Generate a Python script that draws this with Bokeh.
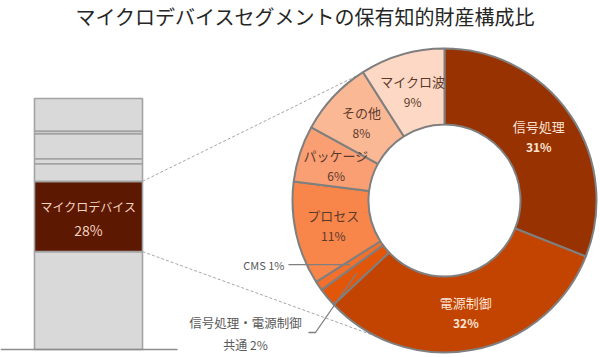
import math
from bokeh.plotting import figure
from bokeh.models import Range1d, ColumnDataSource
from bokeh.embed import file_html
from bokeh.resources import INLINE
from bokeh.core.properties import value

TITLE = "マイクロデバイスセグメントの保有知的財産構成比"

# Donut: shares (%) clockwise from 12 o'clock
donut_names = ["信号処理", "電源制御", "信号処理・電源制御共通", "CMS", "プロセス", "パッケージ", "その他", "マイクロ波"]
donut_shares = [31, 32, 2, 1, 11, 6, 8, 9]
donut_colors = ["#983200", "#C24400", "#E2560A", "#F36F2C", "#F8854A", "#FA9F74", "#FBB895", "#FDD8C4"]
donut_text_colors = ["#FBE3D4", "#FBE3D4", None, None, "#5B3A2C", "#5B3A2C", "#5B3A2C", "#5B3A2C"]

# Stacked bar: shares (%) from bottom to top
bar_shares = [39, 28, 7, 2, 10, 1, 13]
bar_labels = ["", "マイクロデバイス", "", "", "", "", ""]
bar_highlight = 1

W, H = 600, 357
FONT = value("Noto Sans CJK JP")

p = figure(width=W, height=H, output_backend="svg", toolbar_location=None,
           x_range=Range1d(0, W), y_range=Range1d(0, H),
           x_axis_location=None, y_axis_location=None, min_border=0,
           outline_line_color=None)
p.grid.visible = False
p.background_fill_color = "white"
p.border_fill_color = "white"

def sy(y):  # screen y -> data y
    return H - y

# ---- title ----
p.text(x=[305], y=[sy(16)], text=[TITLE], text_font=FONT, text_font_size=value("20px"),
       text_color="#262626", text_align="center", text_baseline="middle")

# ---- stacked bar ----
bx0, bx1 = 34, 142
base, top = sy(349), sy(98)
scale = (top - base) / sum(bar_shares)
cum = 0
tops, bots, fills = [], [], []
for i, s in enumerate(bar_shares):
    bots.append(base + cum * scale)
    cum += s
    tops.append(base + cum * scale)
    fills.append("#5C1800" if i == bar_highlight else "#D9D9D9")
p.quad(left=[bx0] * len(bar_shares), right=[bx1] * len(bar_shares), bottom=bots, top=tops,
       fill_color=fills, line_color="#A3A3A3", line_width=1.6)
# baseline
p.line(x=[0, 177], y=[sy(349), sy(349)], line_color="#8C8C8C", line_width=1.5)
hb, ht = bots[bar_highlight], tops[bar_highlight]
hm = (hb + ht) / 2
p.text(x=[(bx0 + bx1) / 2], y=[hm + 10], text=[bar_labels[bar_highlight]], text_font=FONT,
       text_font_size=value("12px"), text_color="#F4D3C2", text_align="center", text_baseline="middle")
p.text(x=[(bx0 + bx1) / 2], y=[hm - 14], text=[f"{bar_shares[bar_highlight]}%"], text_font=FONT,
       text_font_size=value("14px"), text_color="#F4D3C2", text_align="center", text_baseline="middle")

# ---- donut ----
cx, cy = 444, sy(200)
r_out, r_in = 152, 76
r_mid = (r_out + r_in) / 2
total = sum(donut_shares)
starts, ends, mids = [], [], []
c = 0
for s in donut_shares:
    a0 = c / total * 360
    c += s
    a1 = c / total * 360
    starts.append(math.radians(90 - a0))
    ends.append(math.radians(90 - a1))
    mids.append((a0 + a1) / 2)

def pt(ang_deg, r):
    return cx + r * math.sin(math.radians(ang_deg)), cy + r * math.cos(math.radians(ang_deg))

# dashed connectors (drawn first, under donut)
for yb, ang in [(ht, 326), (hb, 206.5)]:
    ex, ey = pt(ang, r_out)
    p.line(x=[bx1, ex], y=[yb, ey], line_color="#A6A6A6", line_width=1, line_dash="3 2")

src = ColumnDataSource(dict(start=starts, end=ends, color=donut_colors))
p.annular_wedge(x=cx, y=cy, inner_radius=r_in, outer_radius=r_out, start_angle="start",
                end_angle="end", direction="clock", fill_color="color", line_color="#7F7F7F",
                line_width=2, source=src)

# inside labels
for i, (name, s, m, tc) in enumerate(zip(donut_names, donut_shares, mids, donut_text_colors)):
    if tc is None:
        continue
    lx, ly = pt(m, r_mid)
    p.text(x=[lx], y=[ly + 10], text=[name], text_font=FONT, text_font_size=value("13px"),
           text_color=tc, text_align="center", text_baseline="middle")
    p.text(x=[lx], y=[ly - 10], text=[f"{s}%"], text_font=FONT, text_font_size=value("12px"),
           text_font_style="bold" if i < 2 else "normal", text_color=tc,
           text_align="center", text_baseline="middle")

# outside labels with leaders
# CMS
mx, my = pt(mids[3], r_mid)
p.line(x=[288, mx], y=[my, my], line_color="#7F7F7F", line_width=1.3)
p.text(x=[284], y=[my], text=[f"{donut_names[3]} {donut_shares[3]}%"], text_font=FONT,
       text_font_size=value("11px"), text_color="#595959", text_align="right", text_baseline="middle")
# 共通
mx, my = pt(mids[2], r_mid)
p.line(x=[mx, 315, 308], y=[my, sy(332), sy(332)], line_color="#7F7F7F", line_width=1.3)
p.text(x=[245], y=[sy(322)], text=["信号処理・電源制御"], text_font=FONT,
       text_font_size=value("12.5px"), text_color="#595959", text_align="center", text_baseline="middle")
p.text(x=[245], y=[sy(344)], text=[f"共通 {donut_shares[2]}%"], text_font=FONT,
       text_font_size=value("12px"), text_color="#595959", text_align="center", text_baseline="middle")

open("out.html", "w").write(file_html(p, INLINE))
